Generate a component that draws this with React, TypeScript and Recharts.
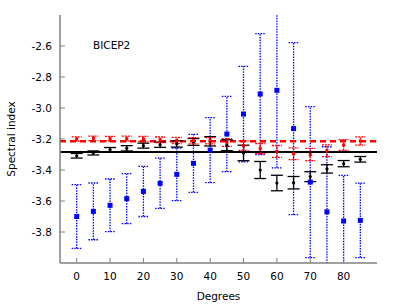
import React from 'react';
import { ComposedChart, Scatter, ErrorBar, XAxis, YAxis, ReferenceLine } from 'recharts';

const degrees = [0, 5, 10, 15, 20, 25, 30, 35, 40, 45, 50, 55, 60, 65, 70, 75, 80, 85];

const blueValues = [-3.7, -3.667, -3.628, -3.585, -3.538, -3.486, -3.428, -3.357, -3.272, -3.168, -3.039, -2.91, -2.886, -3.133, -3.478, -3.67, -3.729, -3.725];
const blueErrors = [0.206, 0.183, 0.17, 0.161, 0.162, 0.162, 0.17, 0.187, 0.21, 0.243, 0.308, 0.39, 0.5, 0.555, 0.487, 0.42, 0.294, 0.24];

const blackValues = [-3.308, -3.29, -3.269, -3.26, -3.243, -3.237, -3.232, -3.219, -3.215, -3.24, -3.29, -3.4, -3.484, -3.482, -3.443, -3.393, -3.359, -3.331];
const blackErrors = [0.015, 0.013, 0.014, 0.017, 0.016, 0.017, 0.02, 0.022, 0.03, 0.035, 0.05, 0.055, 0.05, 0.04, 0.032, 0.027, 0.02, 0.018];

const redValues = [-3.2, -3.196, -3.198, -3.198, -3.2, -3.205, -3.209, -3.211, -3.211, -3.222, -3.243, -3.262, -3.28, -3.295, -3.3, -3.276, -3.239, -3.213];
const redErrors = [0.014, 0.015, 0.015, 0.016, 0.016, 0.018, 0.02, 0.02, 0.02, 0.025, 0.03, 0.033, 0.038, 0.038, 0.04, 0.038, 0.035, 0.027];

const blackLevel = -3.284;
const redLevel = -3.215;

const xTicks = [0, 10, 20, 30, 40, 50, 60, 70, 80];
const yTicks = [-3.8, -3.6, -3.4, -3.2, -3.0, -2.8, -2.6];

const toRows = (values: number[], errors: number[]) =>
  degrees.map((x, i) => ({ x, y: values[i], err: errors[i] }));

const blueData = toRows(blueValues, blueErrors);
const blackData = toRows(blackValues, blackErrors);
const redData = toRows(redValues, redErrors);

const FONT = 'DejaVu Sans';
const AXIS = '#808080';
const tickStyle = { fill: '#000', fontSize: 10.5, fontFamily: FONT };

// small fixed-size markers (recharts' default symbols are much bigger)
const squareShape = (side: number, color: string) => (props: any) => {
  const { cx, cy } = props;
  if (cx == null || cy == null) return <g />;
  return <rect x={cx - side / 2} y={cy - side / 2} width={side} height={side} fill={color} />;
};

const dotShape = (r: number, color: string) => (props: any) => {
  const { cx, cy } = props;
  if (cx == null || cy == null) return <g />;
  return <circle cx={cx} cy={cy} r={r} fill={color} />;
};

export default function App() {
  return (
    <div style={{ position: 'absolute', left: 0, top: 0, width: 407, height: 305, background: '#fff' }}>
      {/* error bars run past the axis range; clip them to the plot frame like the original */}
      <style>{`.recharts-errorBars { clip-path: url(#plotFrame); }`}</style>
      <ComposedChart width={407} height={305} margin={{ top: 15, right: 30, bottom: 0, left: 0 }}>
        <XAxis
          xAxisId={0}
          dataKey="x"
          type="number"
          domain={[-5, 90]}
          ticks={xTicks}
          allowDataOverflow
          height={42}
          tick={tickStyle}
          tickSize={-5}
          tickMargin={15}
          axisLine={{ stroke: AXIS, strokeWidth: 1.5 }}
          tickLine={{ stroke: AXIS }}
        />
        <XAxis
          xAxisId="top"
          dataKey="x"
          type="number"
          orientation="top"
          domain={[-5, 90]}
          ticks={xTicks}
          allowDataOverflow
          height={0}
          tick={tickStyle}
          tickFormatter={() => ''}
          tickSize={-5}
          axisLine={{ stroke: AXIS, strokeWidth: 1.5 }}
          tickLine={{ stroke: AXIS }}
        />
        <YAxis
          yAxisId={0}
          type="number"
          domain={[-4.0, -2.4]}
          ticks={yTicks}
          allowDataOverflow
          width={60}
          tick={tickStyle}
          tickFormatter={(v: number) => v.toFixed(1)}
          tickSize={-5}
          tickMargin={13}
          axisLine={{ stroke: AXIS, strokeWidth: 1.5 }}
          tickLine={{ stroke: AXIS }}
        />
        <YAxis
          yAxisId="right"
          type="number"
          orientation="right"
          domain={[-4.0, -2.4]}
          ticks={yTicks}
          allowDataOverflow
          width={0}
          tick={tickStyle}
          tickFormatter={() => ''}
          tickSize={-5}
          axisLine={{ stroke: AXIS, strokeWidth: 1.5 }}
          tickLine={{ stroke: AXIS }}
        />
        <Scatter data={blueData} dataKey="y" shape={squareShape(5, '#0000ff')} isAnimationActive={false}>
          <ErrorBar dataKey="err" direction="y" width={5} stroke="#0000ff" strokeWidth={1.3} strokeDasharray="1.5 1.2" />
        </Scatter>
        <ReferenceLine y={blackLevel} stroke="#000" strokeWidth={2} />
        <ReferenceLine y={redLevel} stroke="#ff0000" strokeWidth={2.5} strokeDasharray="6 4" />
        <Scatter data={blackData} dataKey="y" shape={dotShape(1.6, '#000')} isAnimationActive={false}>
          <ErrorBar dataKey="err" direction="y" width={6} stroke="#000" strokeWidth={1.3} />
        </Scatter>
        <Scatter data={redData} dataKey="y" shape={squareShape(3, '#ff0000')} isAnimationActive={false}>
          <ErrorBar dataKey="err" direction="y" width={5} stroke="#ff0000" strokeWidth={1.3} strokeDasharray="2 1" />
        </Scatter>
      </ComposedChart>
      <svg width={407} height={305} style={{ position: 'absolute', left: 0, top: 0, pointerEvents: 'none' }}>
        <defs>
          <clipPath id="plotFrame" clipPathUnits="userSpaceOnUse">
            <rect x={60} y={15} width={317} height={248} />
          </clipPath>
        </defs>
        <text x={93} y={48.5} fontFamily={FONT} fontSize={10.5} fill="#000">BICEP2</text>
        <text x={218.5} y={300} fontFamily={FONT} fontSize={10.5} fill="#000" textAnchor="middle">Degrees</text>
        <text
          x={0}
          y={0}
          transform="translate(15 139) rotate(-90)"
          fontFamily={FONT}
          fontSize={10.5}
          fill="#000"
          textAnchor="middle"
        >
          Spectral index
        </text>
      </svg>
    </div>
  );
}
